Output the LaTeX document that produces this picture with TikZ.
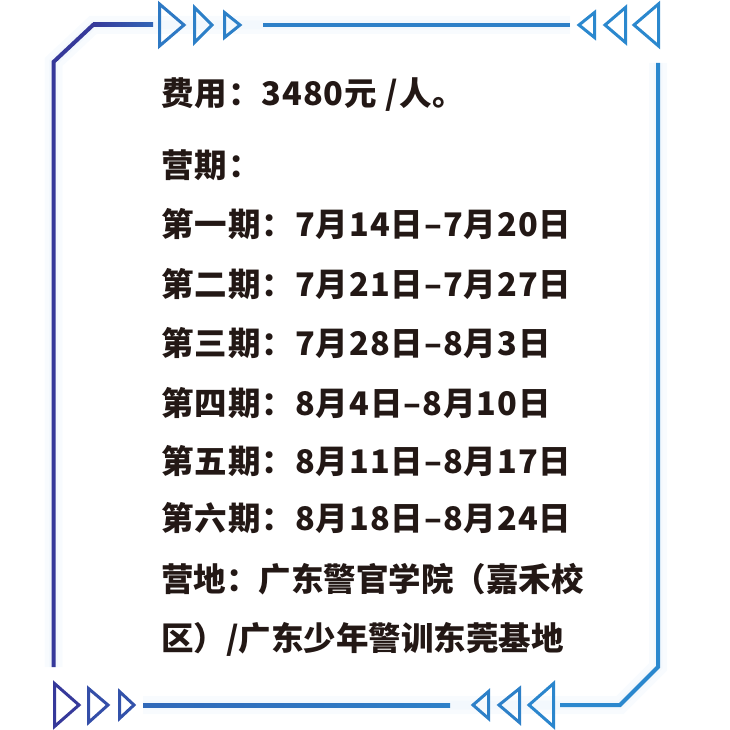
\documentclass[tikz,border=0pt]{standalone}
\usepackage{fontspec}
\newfontfamily\cjk{Noto Sans CJK SC}[LetterSpace=3]
\newfontfamily\cjktight{Noto Sans CJK SC}[LetterSpace=0]
\definecolor{ink}{HTML}{231815}
\definecolor{framedark}{HTML}{36399A}
\definecolor{framemid}{HTML}{3352AA}
\definecolor{frameblue}{HTML}{2D80C8}
\definecolor{framelight}{HTML}{2B88CE}
\definecolor{glowblue}{HTML}{E4F0FA}

\begin{document}
\begin{tikzpicture}[x=1pt,y=-1pt,
  glow/.style={line width=18pt,glowblue,opacity=0.25},
  edge/.style={line width=4pt,line join=miter},
  tri/.style={line width=3pt,line join=miter},
  textline/.style={anchor=base west,inner sep=0pt,text=ink,font=\cjk\bfseries\fontsize{32.5}{32.5}\selectfont},
  tightline/.style={textline,font=\cjktight\bfseries\fontsize{32.5}{32.5}\selectfont}]
\useasboundingbox (0,0) rectangle (730,730);

% soft glow under the frame
\draw[glow](53.5,667)--(53.5,62)--(93,25)--(570,25);
\draw[glow](658,63)--(658,667)--(620,705)--(143,705);
\draw[glow,line width=9pt](53.5,667)--(53.5,62)--(93,25)--(570,25);
\draw[glow,line width=9pt](658,63)--(658,667)--(620,705)--(143,705);

% frame, left and top
\draw[edge,framedark](53.5,667)--(53.5,62)--(93,25)--(95,25);
\shade[left color=framedark,right color=framemid!60!frameblue](93,23)rectangle(153,27);
\draw[tri,frameblue!85!framemid](159.5,4)--(184,25)--(159.5,46)--cycle;
\draw[tri,frameblue](194.5,7.5)--(212,25)--(194.5,42.5)--cycle;
\draw[tri,frameblue](224.5,12.5)--(240,25)--(224.5,37.5)--cycle;
\fill[frameblue](263,23)rectangle(570,27);
\draw[tri,framelight](594.5,12.5)--(579,25)--(594.5,37.5)--cycle;
\draw[tri,framelight](625.5,7.5)--(605,25)--(625.5,42.5)--cycle;
\draw[tri,framelight](658.5,4)--(634,25)--(658.5,46)--cycle;

% frame, right and bottom
\draw[edge,framelight](658,63)--(658,667)--(620,705)--(560,705);
\draw[tri,framelight!80!frameblue](553.5,683.5)--(529,705)--(553.5,726.5)--cycle;
\draw[tri,frameblue](519.5,688.5)--(499,705)--(519.5,722.5)--cycle;
\draw[tri,frameblue](488.5,691.5)--(473,705)--(488.5,718.5)--cycle;
\shade[left color=framemid!50!frameblue,right color=frameblue](143,703)rectangle(450,707);
\draw[tri,framedark](54.5,683.5)--(79,705)--(54.5,726.5)--cycle;
\draw[tri,framemid!85!framedark](88.5,688.5)--(108,705)--(88.5,722.5)--cycle;
\draw[tri,framemid](119.5,691.5)--(134,705)--(119.5,718.5)--cycle;

% text
\node[textline] at (161,106) (fee) {费用：3480元 /人。};
\node[textline] at (161,178) (camp) {营期：};
\node[textline] at (161,236) (p1) {第一期：7月14日–7月20日};
\node[textline] at (161,296) (p2) {第二期：7月21日–7月27日};
\node[textline] at (161,355) (p3) {第三期：7月28日–8月3日};
\node[textline] at (161,415) (p4) {第四期：8月4日–8月10日};
\node[textline] at (161,473) (p5) {第五期：8月11日–8月17日};
\node[textline] at (161,530) (p6) {第六期：8月18日–8月24日};
\node[tightline] at (161,591) (site) {营地：广东警官学院（嘉禾校};
\node[tightline] at (161,650) (site2) {区）/广东少年警训东莞基地};
\end{tikzpicture}
\end{document}
